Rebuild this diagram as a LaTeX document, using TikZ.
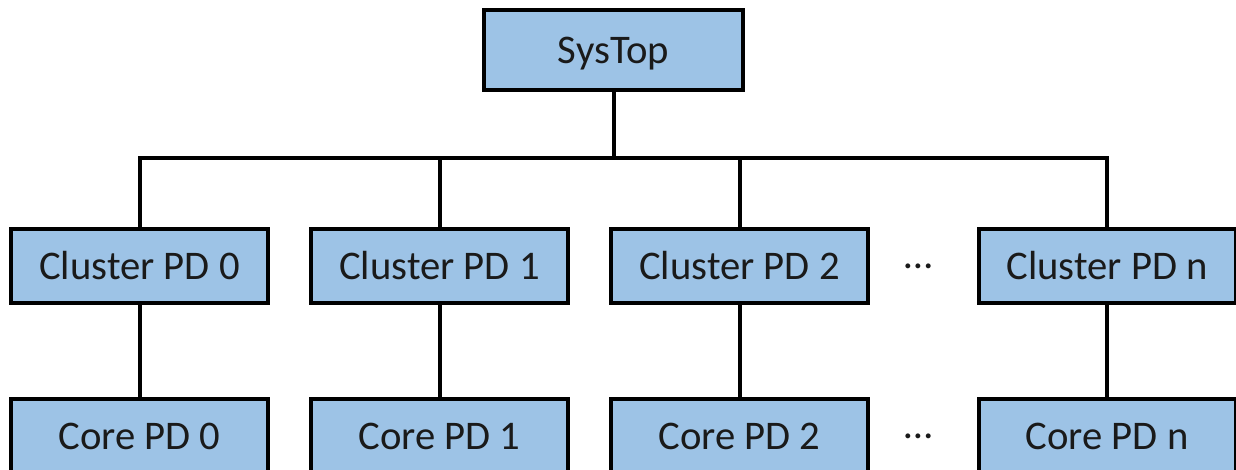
\documentclass[tikz,border=0pt]{standalone}
\usepackage{fontspec}
\setmainfont{Carlito}
\definecolor{boxblue}{HTML}{9DC3E6}
\definecolor{txt}{HTML}{1A1A1A}
\begin{document}
\begin{tikzpicture}[x=0.75pt,y=-0.75pt,
  pd/.style={draw=black, line width=3pt, fill=boxblue, minimum width=257*0.75pt, minimum height=74*0.75pt, inner sep=0pt, text=txt, font=\fontsize{30.5}{34}\selectfont},
  conn/.style={draw=black, line width=3pt, line join=miter}]
\useasboundingbox (0,0) rectangle (1236,469);
\clip (0,0) rectangle (1236,469);
\fill[white] (0,0) rectangle (1236,469);
\node[pd, minimum width=259*0.75pt, minimum height=80*0.75pt] (sys) at (613.5,50) {\raisebox{-9.75pt}[0pt][0pt]{SysTop}};
\node[pd] (c0) at (139.5,266) {Cluster PD 0};
\node[pd] (c1) at (439.5,266) {Cluster PD 1};
\node[pd] (c2) at (739.5,266) {Cluster PD 2};
\node[pd] (cn) at (1107,266) {Cluster PD n};
\node[pd] (k0) at (139.5,436) {Core PD 0};
\node[pd] (k1) at (439.5,436) {Core PD 1};
\node[pd] (k2) at (739.5,436) {Core PD 2};
\node[pd] (kn) at (1107,436) {Core PD n};
\node[text=txt, font=\fontsize{30.5}{34}\selectfont] (d1) at (919,266) {…};
\node[text=txt, font=\fontsize{30.5}{34}\selectfont] (d2) at (919,436) {…};
\coordinate (bus) at (613.5,158);
\draw[conn] (c0.north) |- (bus) -| (cn.north);
\draw[conn] (sys.south) -- (bus);
\draw[conn] (c1.north) -- (c1.north |- bus);
\draw[conn] (c2.north) -- (c2.north |- bus);
\draw[conn] (c0.south) -- (k0.north);
\draw[conn] (c1.south) -- (k1.north);
\draw[conn] (c2.south) -- (k2.north);
\draw[conn] (cn.south) -- (kn.north);
\end{tikzpicture}
\end{document}
